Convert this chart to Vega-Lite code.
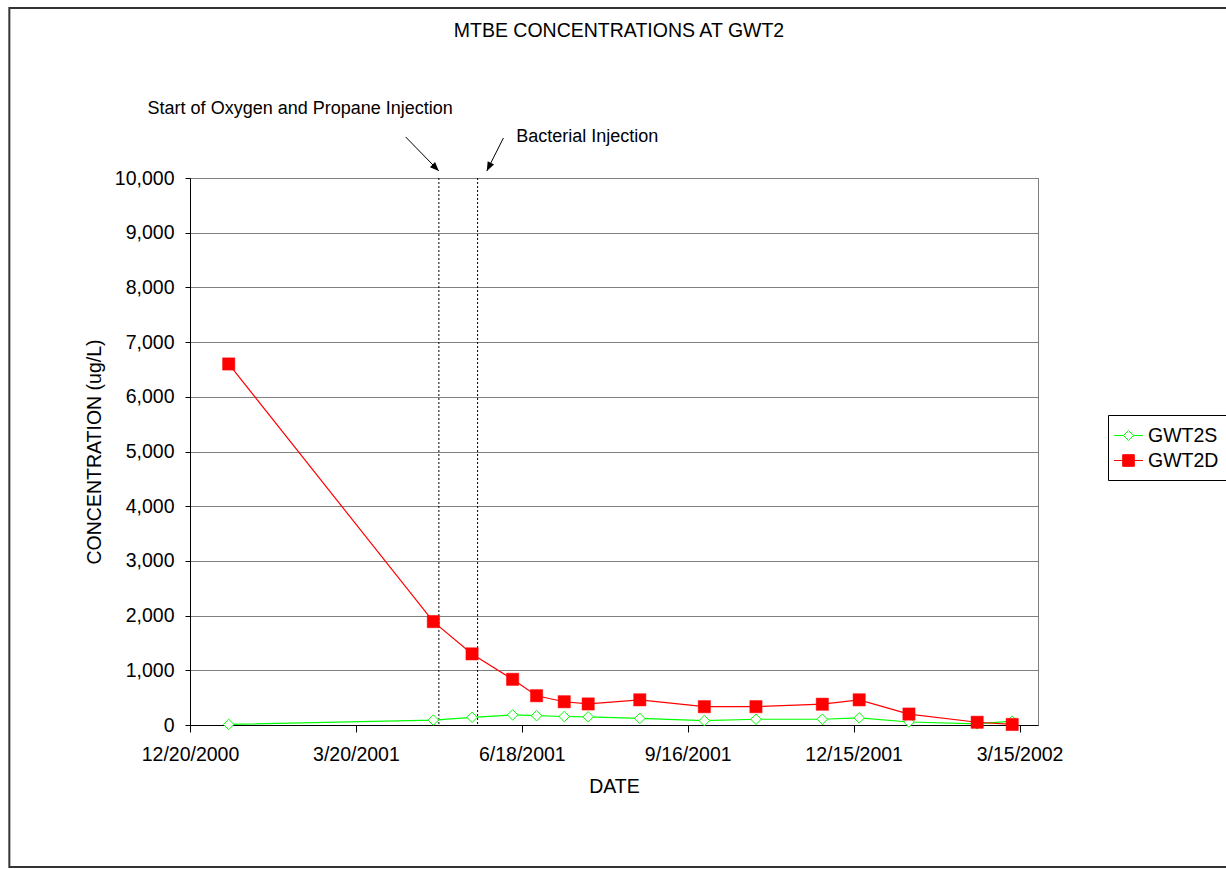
{
  "$schema": "https://vega.github.io/schema/vega-lite/v6.json",
  "width": 848,
  "height": 547,
  "autosize": {"type": "none"},
  "padding": {"left": 190, "top": 178, "right": 188, "bottom": 144},
  "background": "white",
  "title": {"text": "MTBE CONCENTRATIONS AT GWT2", "fontSize": 19.5, "fontWeight": "normal", "font": "Liberation Sans", "color": "black", "anchor": "middle", "dx": 5, "offset": -50, "baseline": "alphabetic"},
  "config": {"view": {"stroke": "#808080", "strokeWidth": 1}, "font": "Liberation Sans"},
  "datasets": {
    "main": [
      {"series": "GWT2S", "date": "2001-01-10", "value": 10},
      {"series": "GWT2S", "date": "2001-05-01", "value": 90},
      {"series": "GWT2S", "date": "2001-05-22", "value": 140},
      {"series": "GWT2S", "date": "2001-06-13", "value": 185},
      {"series": "GWT2S", "date": "2001-06-26", "value": 170},
      {"series": "GWT2S", "date": "2001-07-11", "value": 155},
      {"series": "GWT2S", "date": "2001-07-24", "value": 150},
      {"series": "GWT2S", "date": "2001-08-21", "value": 120},
      {"series": "GWT2S", "date": "2001-09-25", "value": 80},
      {"series": "GWT2S", "date": "2001-10-23", "value": 105},
      {"series": "GWT2S", "date": "2001-11-28", "value": 105},
      {"series": "GWT2S", "date": "2001-12-18", "value": 130},
      {"series": "GWT2S", "date": "2002-01-14", "value": 55},
      {"series": "GWT2S", "date": "2002-02-20", "value": 20},
      {"series": "GWT2S", "date": "2002-03-11", "value": 70},
      {"series": "GWT2D", "date": "2001-01-10", "value": 6600},
      {"series": "GWT2D", "date": "2001-05-01", "value": 1890},
      {"series": "GWT2D", "date": "2001-05-22", "value": 1300},
      {"series": "GWT2D", "date": "2001-06-13", "value": 835},
      {"series": "GWT2D", "date": "2001-06-26", "value": 535},
      {"series": "GWT2D", "date": "2001-07-11", "value": 425},
      {"series": "GWT2D", "date": "2001-07-24", "value": 385},
      {"series": "GWT2D", "date": "2001-08-21", "value": 460},
      {"series": "GWT2D", "date": "2001-09-25", "value": 335},
      {"series": "GWT2D", "date": "2001-10-23", "value": 335},
      {"series": "GWT2D", "date": "2001-11-28", "value": 380},
      {"series": "GWT2D", "date": "2001-12-18", "value": 460},
      {"series": "GWT2D", "date": "2002-01-14", "value": 200},
      {"series": "GWT2D", "date": "2002-02-20", "value": 50},
      {"series": "GWT2D", "date": "2002-03-11", "value": 10}
    ],
    "events": [
      {"date": "2001-05-04", "event": "Start of Oxygen and Propane Injection"},
      {"date": "2001-05-25", "event": "Bacterial Injection"}
    ],
    "notes": [
      {"date": "2000-11-27", "value": 11261, "label": "Start of Oxygen and Propane Injection"},
      {"date": "2001-06-15", "value": 10750, "label": "Bacterial Injection"}
    ],
    "arrows": [
      {"date": "2001-04-16", "value": 10750, "date2": "2001-05-04", "value2": 10128},
      {"date": "2001-06-08", "value": 10731, "date2": "2001-05-30", "value2": 10128}
    ]
  },
  "layer": [
    {
      "data": {"values": [{}]},
      "mark": {"type": "rect", "filled": false, "stroke": "#333333", "strokeWidth": 2},
      "encoding": {
        "x": {"datum": {"year": 2000, "month": 9, "date": 13, "utc": true}, "type": "temporal"},
        "x2": {"datum": {"year": 2002, "month": 7, "date": 20, "utc": true}},
        "y": {"datum": 13108, "type": "quantitative"},
        "y2": {"datum": -2596}
      }
    },
    {
      "data": {"name": "events"},
      "mark": {"type": "rule", "color": "black", "strokeWidth": 1, "strokeDash": [2, 2]},
      "encoding": {
        "x": {"field": "date", "type": "temporal"}
      }
    },
    {
      "data": {"name": "main"},
      "mark": {"type": "line", "strokeWidth": 1.2},
      "encoding": {
        "x": {
          "field": "date", "type": "temporal",
          "scale": {"type": "utc", "domain": [{"year": 2000, "month": 12, "date": 20, "utc": true}, {"year": 2002, "month": 3, "date": 25, "utc": true}], "nice": false},
          "axis": {
            "values": [
              {"year": 2000, "month": 12, "date": 20, "utc": true},
              {"year": 2001, "month": 3, "date": 20, "utc": true},
              {"year": 2001, "month": 6, "date": 18, "utc": true},
              {"year": 2001, "month": 9, "date": 16, "utc": true},
              {"year": 2001, "month": 12, "date": 15, "utc": true},
              {"year": 2002, "month": 3, "date": 15, "utc": true}
            ],
            "format": "%-m/%-d/%Y",
            "title": "DATE",
            "titleFontSize": 19.5, "titleFontWeight": "normal", "titleColor": "black", "titleFont": "Liberation Sans",
            "labelFontSize": 19.5, "labelColor": "black", "labelFont": "Liberation Sans",
            "tickSize": 7, "tickColor": "black", "domainColor": "black", "domainWidth": 1,
            "labelPadding": 13, "titlePadding": 14, "grid": false, "labelFlush": false, "labelOverlap": false
          }
        },
        "y": {
          "field": "value", "type": "quantitative",
          "scale": {"domain": [0, 10000], "nice": false, "zero": true},
          "axis": {
            "values": [0, 1000, 2000, 3000, 4000, 5000, 6000, 7000, 8000, 9000, 10000],
            "format": ",.0f",
            "title": "CONCENTRATION (ug/L)",
            "titleFontSize": 19.5, "titleFontWeight": "normal", "titleColor": "black", "titleFont": "Liberation Sans",
            "labelFontSize": 19.5, "labelColor": "black", "labelFont": "Liberation Sans",
            "tickSize": 5, "tickColor": "black", "domainColor": "black", "domainWidth": 1,
            "labelPadding": 11, "titlePadding": 10,
            "grid": true, "gridColor": "#808080", "gridOpacity": 1, "gridWidth": 1
          }
        },
        "color": {
          "field": "series", "type": "nominal",
          "scale": {"domain": ["GWT2S", "GWT2D"], "range": ["#00ff00", "#ff0000"]},
          "legend": {
            "orient": "none", "legendX": 918, "legendY": 237,
            "title": null,
            "strokeColor": "black", "fillColor": "white", "padding": 10,
            "labelFontSize": 19.5, "labelColor": "black", "labelFont": "Liberation Sans",
            "labelOffset": 9, "rowPadding": 5,
            "symbolSize": 400, "symbolStrokeWidth": 1,
            "encode": {
              "symbols": {
                "update": {
                  "shape": {"signal": "datum.value === 'GWT2S' ? 'M-1.45,0L-0.5,0M0.5,0L1.45,0M0,-0.5L0.5,0L0,0.5L-0.5,0Z' : 'M-1.45,0L1.45,0M-0.58,-0.58L0.58,-0.58L0.58,0.58L-0.58,0.58Z'"},
                  "fill": {"signal": "datum.value === 'GWT2S' ? '#ffffff' : '#ff0000'"},
                  "stroke": {"signal": "datum.value === 'GWT2S' ? '#00ff00' : '#ff0000'"},
                  "opacity": {"value": 1},
                  "strokeWidth": {"value": 1}
                }
              }
            }
          }
        }
      }
    },
    {
      "data": {"name": "main"},
      "transform": [{"filter": "datum.series === 'GWT2S'"}],
      "mark": {"type": "point", "shape": "diamond", "filled": true, "fill": "white", "stroke": "#00ff00", "strokeWidth": 1, "size": 110, "opacity": 1},
      "encoding": {
        "x": {"field": "date", "type": "temporal"},
        "y": {"field": "value", "type": "quantitative"}
      }
    },
    {
      "data": {"name": "main"},
      "transform": [{"filter": "datum.series === 'GWT2D'"}],
      "mark": {"type": "point", "shape": "square", "filled": true, "fill": "#ff0000", "stroke": "#ff0000", "strokeWidth": 0.5, "size": 150, "opacity": 1},
      "encoding": {
        "x": {"field": "date", "type": "temporal"},
        "y": {"field": "value", "type": "quantitative"}
      }
    },
    {
      "data": {"name": "notes"},
      "mark": {"type": "text", "align": "left", "baseline": "middle", "fontSize": 18, "font": "Liberation Sans", "color": "black"},
      "encoding": {
        "x": {"field": "date", "type": "temporal"},
        "y": {"field": "value", "type": "quantitative"},
        "text": {"field": "label"}
      }
    },
    {
      "data": {"name": "arrows"},
      "mark": {"type": "rule", "color": "black", "strokeWidth": 1},
      "encoding": {
        "x": {"field": "date", "type": "temporal"},
        "x2": {"field": "date2"},
        "y": {"field": "value", "type": "quantitative"},
        "y2": {"field": "value2"}
      }
    },
    {
      "data": {"values": [{}]},
      "mark": {"type": "point", "shape": "M0,0L-0.4,1L0.4,1Z", "filled": true, "color": "black", "size": 324, "angle": 135, "opacity": 1},
      "encoding": {
        "x": {"datum": {"year": 2001, "month": 5, "date": 4, "utc": true}, "type": "temporal"},
        "y": {"datum": 10128, "type": "quantitative"}
      }
    },
    {
      "data": {"values": [{}]},
      "mark": {"type": "point", "shape": "M0,0L-0.4,1L0.4,1Z", "filled": true, "color": "black", "size": 324, "angle": 207, "opacity": 1},
      "encoding": {
        "x": {"datum": {"year": 2001, "month": 5, "date": 30, "utc": true}, "type": "temporal"},
        "y": {"datum": 10128, "type": "quantitative"}
      }
    }
  ]
}
